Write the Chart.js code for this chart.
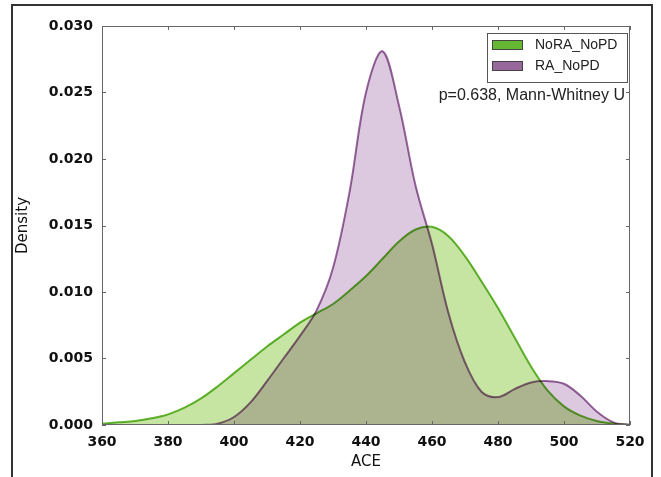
<!DOCTYPE html>
<html>
<head>
<meta charset="utf-8">
<script src="https://cdn.jsdelivr.net/npm/chart.js@4.4.0/dist/chart.umd.min.js"></script>
<style>
  html, body { margin: 0; padding: 0; background: #fff; }
</style>
</head>
<body>
<canvas id="grafico" width="661" height="477"></canvas>
<script>
// Grade de ACE (eixo x) e densidades
const ace = [360, 365, 370, 375, 380, 385, 390, 395, 400, 405, 410, 415, 420, 425, 430, 435, 440,
             445, 450, 455, 460, 465, 470, 475, 480, 485, 490, 495, 500, 505, 510, 515, 520];
const densNoRA = [0.0001, 0.0002, 0.0003, 0.0005, 0.0008, 0.0013, 0.0020, 0.0029, 0.0039, 0.0049,
                  0.0059, 0.0068, 0.0077, 0.0084, 0.0091, 0.0101, 0.0112, 0.0125, 0.0138, 0.0147,
                  0.0149, 0.0142, 0.0127, 0.0108, 0.0088, 0.0066, 0.0044, 0.0026, 0.0014, 0.0007,
                  0.0003, 0.0001, 0.0000];
const densRA = [null, null, null, null, null, null, 0.0000, 0.0001, 0.0006, 0.0017,
                0.0033, 0.0050, 0.0067, 0.0086, 0.0118, 0.0175, 0.0250, 0.0281, 0.0240, 0.0180,
                0.0136, 0.0084, 0.0047, 0.0025, 0.0021, 0.0027, 0.0032, 0.0033, 0.0031, 0.0022,
                0.0010, 0.0002, 0.0000];
const xTicks = [360, 380, 400, 420, 440, 460, 480, 500, 520];
const yTicks = [0.000, 0.005, 0.010, 0.015, 0.020, 0.025, 0.030];
const nomes = ['NoRA_NoPD', 'RA_NoPD'];
const textoTeste = 'p=0.638, Mann-Whitney U';

const fonteEixo = 'DejaVu Sans';
const fonteLegenda = 'Liberation Sans';

function pontos(ys) {
    return ace.map((x, i) => ({ x: x, y: ys[i] }));
}

// Fundo branco e moldura externa da figura
const moldura = {
    id: 'moldura',
    beforeDraw(chart) {
        const ctx = chart.ctx;
        ctx.save();
        ctx.fillStyle = '#fff';
        ctx.fillRect(0, 0, chart.width, chart.height);
        ctx.strokeStyle = '#333';
        ctx.lineWidth = 2;
        ctx.beginPath();
        ctx.moveTo(12, chart.height + 5);
        ctx.lineTo(12, 5);
        ctx.lineTo(652, 5);
        ctx.lineTo(652, chart.height + 5);
        ctx.stroke();
        ctx.restore();
    }
};

// Áreas sobrepostas misturadas por multiplicação, depois caixa e ticks para dentro
const mistura = {
    id: 'mistura',
    beforeDatasetsDraw(chart) {
        chart.ctx.save();
        chart.ctx.globalCompositeOperation = 'multiply';
    },
    afterDatasetsDraw(chart) {
        const ctx = chart.ctx;
        ctx.restore();
        const a = chart.chartArea;
        const sx = chart.scales.x, sy = chart.scales.y;
        ctx.save();
        ctx.strokeStyle = '#666';
        ctx.lineWidth = 1;
        ctx.strokeRect(a.left + 0.5, a.top + 0.5, a.right - a.left - 1, a.bottom - a.top - 1);
        ctx.beginPath();
        const t = 4;
        xTicks.forEach(v => {
            const px = Math.round(sx.getPixelForValue(v)) + 0.5;
            ctx.moveTo(px, a.bottom); ctx.lineTo(px, a.bottom - t);
            ctx.moveTo(px, a.top); ctx.lineTo(px, a.top + t);
        });
        yTicks.forEach(v => {
            const py = Math.round(sy.getPixelForValue(v)) + 0.5;
            ctx.moveTo(a.left, py); ctx.lineTo(a.left + t, py);
            ctx.moveTo(a.right, py); ctx.lineTo(a.right - t, py);
        });
        ctx.stroke();
        ctx.restore();
    }
};

// Legenda dentro do gráfico e texto do teste
const legendaInterna = {
    id: 'legendaInterna',
    afterDraw(chart) {
        const ctx = chart.ctx;
        const a = chart.chartArea;
        const x0 = a.right - 143, y0 = a.top + 7, w = 140, h = 49;
        ctx.save();
        ctx.fillStyle = '#fff';
        ctx.fillRect(x0, y0, w, h);
        ctx.strokeStyle = '#555';
        ctx.lineWidth = 1;
        ctx.strokeRect(x0 + 0.5, y0 + 0.5, w, h);
        ctx.font = '14px "' + fonteLegenda + '"';
        ctx.textBaseline = 'middle';
        ctx.textAlign = 'left';
        chart.data.datasets.forEach((ds, i) => {
            const cy = y0 + 12 + i * 21;
            ctx.fillStyle = ds.borderColor;
            ctx.fillRect(x0 + 5, cy - 5, 31, 10);
            ctx.strokeStyle = '#444';
            ctx.strokeRect(x0 + 5.5, cy - 4.5, 30, 9);
            ctx.fillStyle = '#222';
            ctx.fillText(ds.label, x0 + 48, cy);
        });
        ctx.font = '16px "' + fonteLegenda + '"';
        ctx.textAlign = 'right';
        ctx.fillStyle = '#222';
        ctx.fillText(textoTeste, a.right - 5, a.top + 70);
        ctx.restore();
    }
};

new Chart(document.getElementById('grafico'), {
    type: 'line',
    data: {
        datasets: [
            {
                label: nomes[0],
                data: pontos(densNoRA),
                borderColor: '#66b832',
                backgroundColor: '#c6e5a3',
                borderWidth: 2,
                fill: 'origin',
                pointRadius: 0,
                tension: 0.35,
                order: 2
            },
            {
                label: nomes[1],
                data: pontos(densRA),
                borderColor: '#98679c',
                backgroundColor: '#dcc9e0',
                borderWidth: 2,
                fill: 'origin',
                pointRadius: 0,
                tension: 0.35,
                order: 1
            }
        ]
    },
    options: {
        responsive: false,
        animation: false,
        layout: { padding: { left: 10, top: 26, right: 31, bottom: 0 } },
        plugins: {
            legend: { display: false },
            tooltip: { enabled: false }
        },
        scales: {
            x: {
                type: 'linear',
                min: 360,
                max: 520,
                afterBuildTicks: s => { s.ticks = xTicks.map(v => ({ value: v })); },
                afterFit: s => { s.height = 52; },
                grid: { display: false, drawTicks: false },
                border: { display: false },
                ticks: {
                    padding: 9,
                    maxRotation: 0,
                    autoSkip: false,
                    color: '#111',
                    font: { family: fonteEixo, size: 14, weight: 'bold' }
                },
                title: {
                    display: true,
                    text: 'ACE',
                    color: '#111',
                    font: { family: fonteEixo, size: 15 },
                    padding: { top: 0, bottom: 6 }
                }
            },
            y: {
                min: 0,
                max: 0.03,
                afterBuildTicks: s => { s.ticks = yTicks.map(v => ({ value: v })); },
                afterFit: s => { s.width = 92; },
                grid: { display: false, drawTicks: false },
                border: { display: false },
                ticks: {
                    padding: 9,
                    color: '#111',
                    font: { family: fonteEixo, size: 14, weight: 'bold' },
                    callback: v => v.toFixed(3)
                },
                title: {
                    display: true,
                    text: 'Density',
                    color: '#111',
                    font: { family: fonteEixo, size: 15 },
                    padding: { top: 4, bottom: 0 }
                }
            }
        }
    },
    plugins: [moldura, mistura, legendaInterna]
});
</script>
</body>
</html>
